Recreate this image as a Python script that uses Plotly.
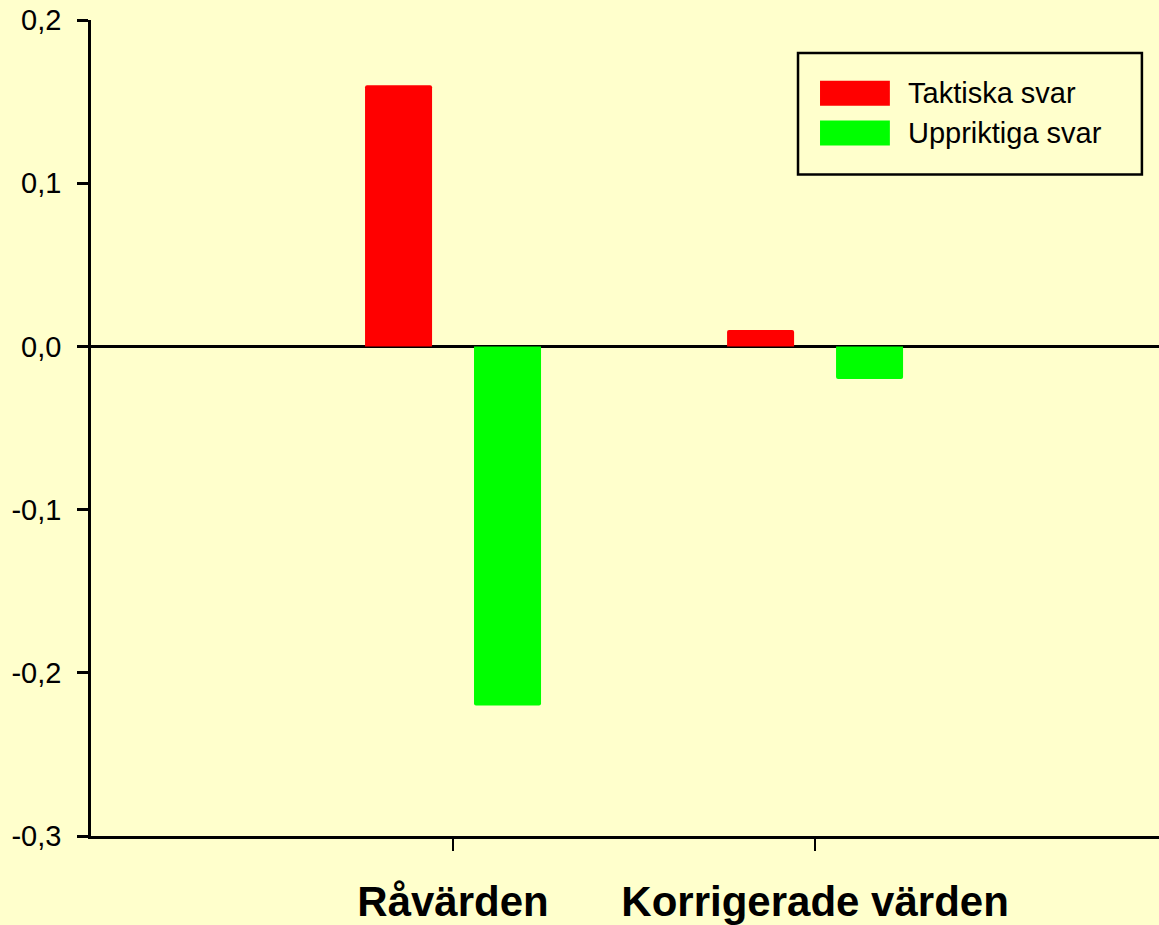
import plotly.graph_objects as go

# data
categories = ["Råvärden", "Korrigerade värden"]
series_names = ["Taktiska svar", "Uppriktiga svar"]
taktiska = [0.16, 0.01]
uppriktiga = [-0.22, -0.02]
colors = ["#FF0000", "#00FF00"]
y_ticks = [-0.3, -0.2, -0.1, 0.0, 0.1, 0.2]
y_tick_labels = ["-0,3", "-0,2", "-0,1", "0,0", "0,1", "0,2"]

bg = "#FFFFCC"
font = "Liberation Sans, Arial, sans-serif"

fig = go.Figure()
for name, vals, col in zip(series_names, [taktiska, uppriktiga], colors):
    fig.add_trace(go.Bar(x=categories, y=vals, name=name,
                         marker=dict(color=col, line=dict(width=0), cornerradius=2),
                         showlegend=False))

fig.update_layout(
    width=1159, height=925,
    margin=dict(l=91, r=0, t=20, b=86),
    paper_bgcolor=bg, plot_bgcolor=bg,
    barmode="group", bargap=0.398, bargroupgap=0.385,
    font=dict(family=font, color="black"),
)

fig.update_xaxes(
    type="category", range=[-1, 1.95],
    showline=True, linecolor="black", linewidth=2.5,
    ticks="outside", ticklen=12, tickwidth=2, tickcolor="black",
    showgrid=False, zeroline=False,
    tickfont=dict(size=42, family=font, weight="bold"),
    ticklabelstandoff=15,
)
fig.update_yaxes(
    range=[-0.3, 0.2], tickvals=y_ticks, ticktext=y_tick_labels,
    showline=True, linecolor="black", linewidth=2.5,
    ticks="outside", ticklen=11, tickwidth=2.5, tickcolor="black",
    showgrid=False, zeroline=True, zerolinecolor="black", zerolinewidth=2.5,
    tickfont=dict(size=29, family=font),
    ticklabelstandoff=10,
)

# legend box drawn by hand to get the wide swatches
fig.add_shape(type="rect", xref="paper", yref="paper",
              x0=0.662, x1=0.984, y0=0.8107, y1=0.9597,
              line=dict(color="black", width=2.5), fillcolor=bg)
sw_y = [(0.8950, 0.9255), (0.8462, 0.8767)]
for name, col, (y0, y1) in zip(series_names, colors, sw_y):
    fig.add_shape(type="rect", xref="paper", yref="paper",
                  x0=0.6826, x1=0.748, y0=y0, y1=y1,
                  line=dict(width=0), fillcolor=col)
    fig.add_annotation(xref="paper", yref="paper", x=0.7635, y=(y0 + y1) / 2,
                       text=name, showarrow=False, xanchor="left", yanchor="middle",
                       font=dict(size=29, family=font, color="black"))

# drop the default page margin so the figure fills the window
fig.write_html("out.html", config={"displayModeBar": False},
               post_script="document.body.style.margin='0';")
